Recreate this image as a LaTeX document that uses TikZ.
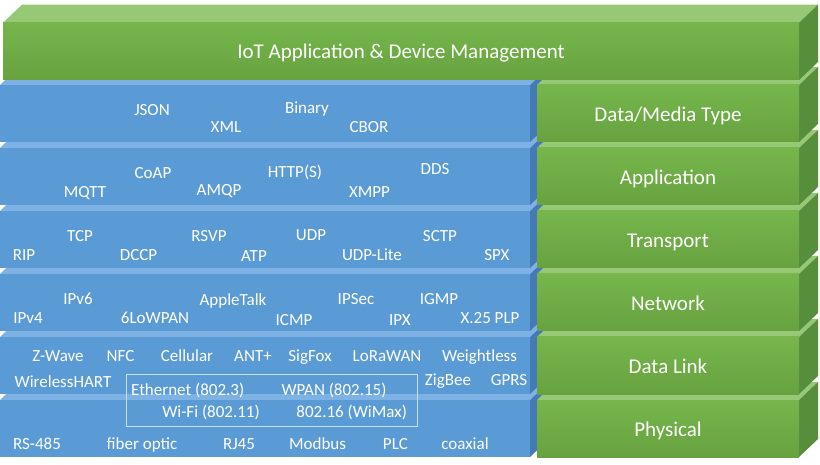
\documentclass[tikz,border=0pt]{standalone}
\usepackage{fontspec}
\setmainfont{Carlito}
\usepackage{xcolor}
\usepackage{tikz}
\usetikzlibrary{positioning,calc}
\definecolor{leafFront}{RGB}{112,173,71}
\definecolor{leafFrontTop}{RGB}{118,182,76}
\definecolor{leafFrontBot}{RGB}{103,162,63}
\definecolor{leafTop}{RGB}{150,200,118}
\definecolor{leafSide}{RGB}{86,142,60}
\definecolor{skyFront}{RGB}{91,155,213}
\definecolor{skyTop}{RGB}{126,178,228}
\definecolor{skySide}{RGB}{68,122,183}
\definecolor{skyLine}{RGB}{200,222,242}
\newcommand{\slab}[5]{%
  \fill[#1top] (#2,#4) -- (#3,#4) -- ({#3+19},{#4-18}) -- ({#2+19},{#4-18}) -- cycle;
  \fill[#1side] (#3,#4) -- ({#3+19},{#4-18}) -- ({#3+19},{#5-18}) -- (#3,#5) -- cycle;
  \fill[#1front] (#2,#4) rectangle (#3,#5);
}

\begin{document}
\begin{tikzpicture}[
    x=1pt, y=-1pt,
    greentop/.style={fill=leafTop},
    greenside/.style={fill=leafSide},
    greenfront/.style={top color=leafFrontTop, bottom color=leafFrontBot},
    bluetop/.style={fill=skyTop},
    blueside/.style={fill=skySide},
    bluefront/.style={fill=skyFront},
    layer/.style={text=white, inner sep=0pt, font=\fontsize{21}{25}\selectfont, text height=13.3pt, text depth=0pt},
    proto/.style={text=white, inner sep=0pt, font=\fontsize{17}{20}\selectfont, text height=10.7pt, text depth=0pt},
    wiredbox/.style={draw=skyLine, line width=1pt, minimum width=291pt, minimum height=52pt, inner sep=0pt}
]
\useasboundingbox (0,0) rectangle (820,465);
\slab{blue}{0}{530}{400}{457}
\slab{green}{537}{799}{400}{457}
\slab{blue}{0}{530}{337}{394}
\slab{green}{537}{799}{337}{394}
\slab{blue}{0}{530}{274}{331}
\slab{green}{537}{799}{274}{331}
\slab{blue}{0}{530}{211}{268}
\slab{green}{537}{799}{211}{268}
\slab{blue}{0}{530}{148}{205}
\slab{green}{537}{799}{148}{205}
\slab{blue}{0}{530}{85}{142}
\slab{green}{537}{799}{85}{142}
\slab{green}{3}{799}{22.7}{80}
\node[layer] (iot) at (401,52) {IoT Application \& Device Management};
\node[layer] (media) at (668,115) {Data/Media Type};
\node[layer] (app) at (668,178) {Application};
\node[layer] (transport) at (668,241) {Transport};
\node[layer] (network) at (668,304) {Network};
\node[layer] (link) at (668,367) {Data Link};
\node[layer] (physical) at (668,430) {Physical};
\node[proto] (json) at (152,110) {JSON};
\node[proto] (xml) at (226,127) {XML};
\node[proto] (binary) at (307,108.5) {Binary};
\node[proto] (cbor) at (369,127) {CBOR};
\node[proto] (coap) at (153,173) {CoAP};
\node[proto] (https) at (295,172) {HTTP(S)};
\node[proto] (dds) at (435,169) {DDS};
\node[proto] (mqtt) at (85,192) {MQTT};
\node[proto] (amqp) at (219,190) {AMQP};
\node[proto] (xmpp) at (369.5,192) {XMPP};
\node[proto] (tcp) at (80,236) {TCP};
\node[proto] (rsvp) at (209,236) {RSVP};
\node[proto] (udp) at (311,235) {UDP};
\node[proto] (sctp) at (440,236) {SCTP};
\node[proto] (rip) at (24,255) {RIP};
\node[proto] (dccp) at (138.5,255) {DCCP};
\node[proto] (atp) at (254,256) {ATP};
\node[proto] (udplite) at (372,255) {UDP-Lite};
\node[proto] (spx) at (497,255) {SPX};
\node[proto] (ipvsix) at (78,299) {IPv6};
\node[proto] (appletalk) at (233,300) {AppleTalk};
\node[proto] (ipsec) at (356,299) {IPSec};
\node[proto] (igmp) at (439,299) {IGMP};
\node[proto] (ipvfour) at (28,318) {IPv4};
\node[proto] (lowpan) at (155,318) {6LoWPAN};
\node[proto] (icmp) at (294,320) {ICMP};
\node[proto] (ipx) at (400,320) {IPX};
\node[proto] (xtwentyfive) at (490,318) {X.25 PLP};
\node[proto] (zwave) at (58,356) {Z-Wave};
\node[proto] (nfc) at (120.5,356) {NFC};
\node[proto] (cellular) at (187,356) {Cellular};
\node[proto] (antplus) at (253,356) {ANT+};
\node[proto] (sigfox) at (310,356) {SigFox};
\node[proto] (lorawan) at (387,356) {LoRaWAN};
\node[proto] (weightless) at (479.5,356) {Weightless};
\node[proto] (hart) at (63,382) {WirelessHART};
\node[proto] (zigbee) at (448,380) {ZigBee};
\node[proto] (gprs) at (509,380.5) {GPRS};
\node[wiredbox] (wired) at (271.5,400) {};
\node[proto] (ethernet) at (187.7,390) {Ethernet (802.3)};
\node[proto] (wpan) at (334,390) {WPAN (802.15)};
\node[proto] (wifi) at (211,412) {Wi-Fi (802.11)};
\node[proto] (wimax) at (351.7,412) {802.16 (WiMax)};
\node[proto] (rsfour) at (37,444) {RS-485};
\node[proto] (fiber) at (142,444) {fiber optic};
\node[proto] (rj) at (239,444) {RJ45};
\node[proto] (modbus) at (317.6,444) {Modbus};
\node[proto] (plc) at (395.4,444) {PLC};
\node[proto] (coax) at (465,444) {coaxial};
\end{tikzpicture}
\end{document}
